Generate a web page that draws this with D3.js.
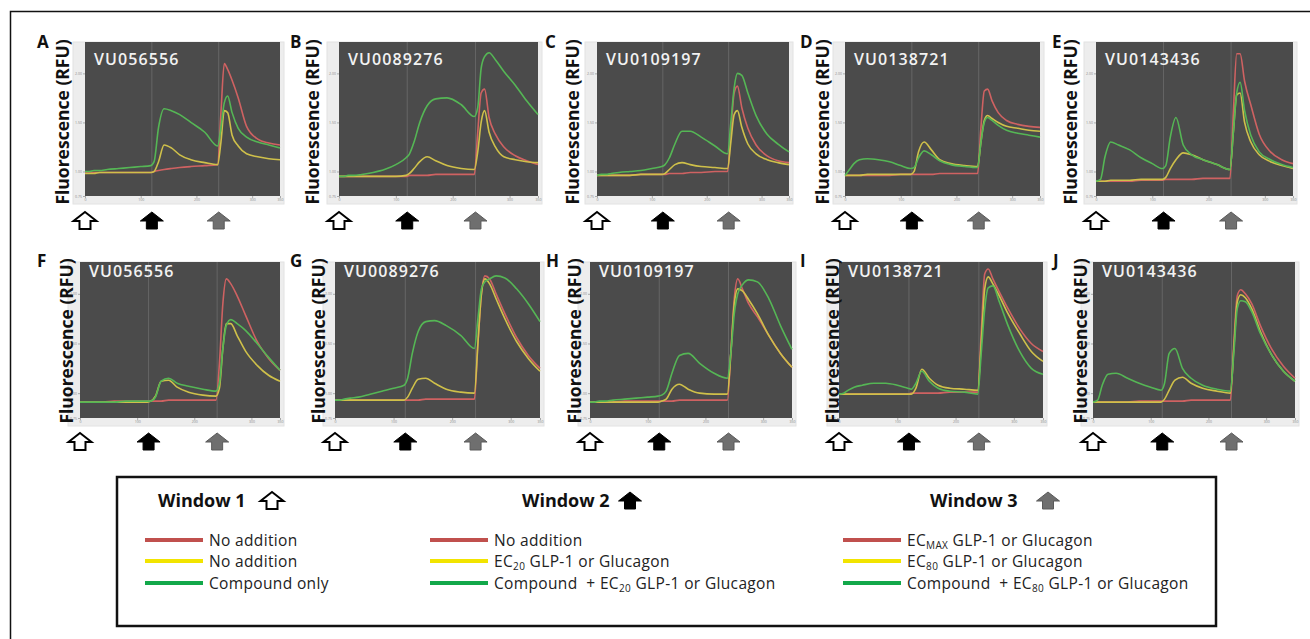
<!DOCTYPE html>
<html>
<head>
<meta charset="utf-8">
<script src="https://cdn.jsdelivr.net/npm/d3@7"></script>
<style>
  body { margin: 0; background: #fff; }
  svg { display: block; }
  text { font-family: "Open Sans", "Noto Sans", sans-serif; }
</style>
</head>
<body>
<div id="draw_here"></div>
<script>
// ---- data (ratio F/F0 vs time in s) ----
const times = [0, 8, 16, 26, 40, 60, 80, 100, 118, 124, 132, 142, 155, 170, 190, 215, 238, 244, 250, 256, 264, 275, 290, 310, 330, 350];
const letters = ["A", "B", "C", "D", "E", "F", "G", "H", "I", "J"];
const compounds = ["VU056556", "VU0089276", "VU0109197", "VU0138721", "VU0143436",
                   "VU056556", "VU0089276", "VU0109197", "VU0138721", "VU0143436"];

// red = EC_MAX / no addition
const red = [
  [0.99,0.99,0.99,0.99,0.99,0.99,0.99,0.99,0.99,1.00,1.01,1.02,1.03,1.04,1.05,1.06,1.07,1.60,2.10,2.04,1.93,1.75,1.46,1.33,1.29,1.27],
  [0.95,0.95,0.95,0.95,0.95,0.95,0.95,0.95,0.95,0.96,0.96,0.96,0.96,0.97,0.97,0.97,0.97,1.40,1.80,1.84,1.55,1.38,1.25,1.16,1.11,1.07],
  [0.96,0.96,0.96,0.96,0.96,0.96,0.97,0.97,0.97,0.97,0.98,0.98,0.98,0.99,0.99,1.00,1.00,1.40,1.80,1.87,1.65,1.44,1.27,1.16,1.11,1.09],
  [0.96,0.96,0.96,0.96,0.96,0.96,0.96,0.97,0.97,0.97,0.97,0.97,0.97,0.98,0.98,0.98,0.98,1.45,1.82,1.84,1.72,1.60,1.52,1.48,1.46,1.45],
  [0.90,0.90,0.90,0.90,0.90,0.90,0.91,0.91,0.91,0.92,0.92,0.92,0.92,0.92,0.93,0.93,0.93,1.60,2.20,2.20,1.92,1.68,1.38,1.20,1.12,1.08],
  [0.91,0.91,0.91,0.91,0.91,0.92,0.92,0.92,0.92,0.92,0.92,0.92,0.93,0.93,0.93,0.93,0.93,1.30,1.90,2.15,2.10,1.98,1.78,1.52,1.35,1.23],
  [0.93,0.93,0.93,0.93,0.93,0.93,0.93,0.93,0.93,0.93,0.93,0.93,0.94,0.94,0.94,0.94,0.94,1.50,2.00,2.18,2.15,2.00,1.80,1.56,1.38,1.25],
  [0.91,0.91,0.91,0.91,0.91,0.92,0.92,0.92,0.92,0.92,0.92,0.92,0.93,0.93,0.93,0.93,0.93,1.40,1.95,2.15,2.05,1.90,1.77,1.58,1.40,1.26],
  [0.99,0.99,0.99,0.99,0.99,0.99,0.99,0.99,0.99,1.00,1.00,1.00,1.00,1.00,1.01,1.01,1.01,1.60,2.20,2.25,2.15,2.02,1.85,1.65,1.50,1.42],
  [0.91,0.91,0.91,0.91,0.91,0.91,0.92,0.92,0.92,0.92,0.92,0.92,0.92,0.93,0.93,0.93,0.93,1.50,1.98,2.04,2.00,1.90,1.68,1.44,1.27,1.15]
];
// yellow = EC20 / EC80
const yellow = [
  [0.98,0.98,0.98,0.99,0.99,0.99,0.99,0.99,0.99,1.00,1.10,1.27,1.24,1.17,1.12,1.09,1.07,1.30,1.62,1.60,1.37,1.26,1.18,1.15,1.13,1.12],
  [0.95,0.95,0.95,0.95,0.95,0.95,0.95,0.95,0.96,0.98,1.03,1.10,1.15,1.11,1.06,1.03,1.02,1.20,1.50,1.62,1.40,1.25,1.15,1.12,1.10,1.09],
  [0.96,0.96,0.96,0.96,0.96,0.96,0.97,0.97,0.97,0.98,1.02,1.07,1.09,1.07,1.05,1.04,1.03,1.30,1.58,1.62,1.45,1.28,1.18,1.12,1.09,1.07],
  [0.96,0.96,0.96,0.96,0.97,0.97,0.97,0.97,0.97,1.00,1.20,1.30,1.22,1.12,1.08,1.06,1.05,1.30,1.52,1.57,1.54,1.50,1.46,1.44,1.42,1.41],
  [0.90,0.90,0.90,0.91,0.91,0.91,0.92,0.92,0.92,0.94,1.03,1.12,1.19,1.17,1.12,1.07,1.02,1.40,1.78,1.80,1.50,1.30,1.17,1.10,1.06,1.03],
  [0.91,0.91,0.91,0.91,0.91,0.91,0.91,0.91,0.91,0.92,0.97,1.12,1.13,1.06,1.01,0.98,0.97,1.05,1.45,1.70,1.70,1.58,1.42,1.28,1.18,1.12],
  [0.93,0.93,0.93,0.93,0.93,0.93,0.93,0.93,0.93,0.96,1.05,1.14,1.15,1.10,1.04,1.01,1.00,1.50,2.00,2.15,2.10,1.95,1.75,1.52,1.35,1.22],
  [0.91,0.91,0.91,0.91,0.91,0.91,0.91,0.91,0.91,0.92,0.94,1.04,1.09,1.04,1.00,0.99,0.99,1.40,1.90,2.05,2.03,1.94,1.80,1.58,1.40,1.26],
  [0.99,0.99,0.99,0.99,0.99,0.99,0.99,0.99,0.99,0.99,1.05,1.24,1.15,1.08,1.05,1.04,1.03,1.50,2.05,2.17,2.10,1.98,1.80,1.60,1.42,1.32],
  [0.91,0.91,0.91,0.91,0.91,0.91,0.91,0.91,0.91,0.94,1.03,1.13,1.16,1.10,1.05,1.02,1.00,1.45,1.92,1.99,1.96,1.85,1.62,1.38,1.22,1.12]
];
// green = compound
const green = [
  [1.00,1.00,1.01,1.01,1.02,1.03,1.04,1.05,1.06,1.10,1.45,1.64,1.62,1.58,1.50,1.40,1.26,1.45,1.70,1.77,1.60,1.44,1.35,1.30,1.27,1.24],
  [0.95,0.95,0.96,0.96,0.97,0.99,1.02,1.07,1.14,1.18,1.30,1.50,1.67,1.74,1.75,1.68,1.56,1.65,2.05,2.17,2.21,2.14,2.02,1.88,1.72,1.58],
  [0.96,0.97,0.97,0.98,0.99,1.00,1.01,1.03,1.05,1.07,1.14,1.28,1.41,1.41,1.35,1.26,1.18,1.50,1.85,2.00,1.98,1.80,1.57,1.38,1.28,1.20],
  [0.96,1.02,1.08,1.12,1.13,1.12,1.10,1.06,1.03,1.04,1.14,1.21,1.17,1.11,1.07,1.05,1.04,1.30,1.50,1.55,1.52,1.47,1.42,1.39,1.37,1.35],
  [0.90,0.92,1.15,1.30,1.27,1.22,1.14,1.08,1.03,1.06,1.35,1.55,1.27,1.17,1.12,1.07,1.02,1.40,1.80,1.91,1.62,1.37,1.20,1.12,1.07,1.04],
  [0.91,0.91,0.91,0.91,0.91,0.91,0.92,0.92,0.92,0.92,0.96,1.12,1.15,1.10,1.07,1.04,1.02,1.10,1.45,1.68,1.74,1.70,1.63,1.50,1.36,1.23],
  [0.93,0.93,0.94,0.95,0.96,0.99,1.02,1.05,1.08,1.15,1.40,1.62,1.72,1.73,1.68,1.58,1.45,1.75,2.05,2.12,2.15,2.18,2.16,2.05,1.90,1.72],
  [0.91,0.91,0.92,0.92,0.93,0.94,0.95,0.96,0.97,0.98,1.02,1.20,1.38,1.40,1.30,1.20,1.15,1.40,1.80,2.00,2.09,2.14,2.12,1.95,1.68,1.44],
  [0.99,1.00,1.03,1.06,1.08,1.10,1.10,1.08,1.05,1.04,1.10,1.22,1.12,1.05,1.02,1.01,0.99,1.40,1.85,2.06,2.08,1.92,1.68,1.42,1.25,1.19],
  [0.91,0.93,1.08,1.19,1.20,1.15,1.10,1.06,1.03,1.10,1.40,1.45,1.25,1.15,1.08,1.04,1.02,1.40,1.85,1.93,1.92,1.82,1.60,1.38,1.22,1.12]
];

const xTicks = [0, 100, 200, 300, 350];
const yTicks = [0.75, 1.0, 1.5, 2.0];
const additions = [0, 120, 240];          // window 1, 2, 3 addition times
const windowNames = ["Window 1", "Window 2", "Window 3"];
const legendText = [
  [["No addition"], ["No addition"], ["Compound only"]],
  [["No addition"], ["EC", "20", " GLP-1 or Glucagon"], ["Compound  + EC", "20", " GLP-1 or Glucagon"]],
  [["EC", "MAX", " GLP-1 or Glucagon"], ["EC", "80", " GLP-1 or Glucagon"], ["Compound  + EC", "80", " GLP-1 or Glucagon"]]
];

// ---- layout ----
const canvas = ({width: 1310, height: 639});
const rows = [
  {top: 42, bottom: 196, letterY: 48, titleY: 65, labelY: 122, arrowY: 212},
  {top: 262, bottom: 418, letterY: 267, titleY: 277, labelY: 341, arrowY: 433}
];
const panelX = [[85,280],[339,538],[597,789],[845,1040],[1096,1293],
                [80,280],[335,540],[590,792],[839,1043],[1093,1295]];
const letterX = [37, 290, 545, 800, 1052, 37, 290, 546, 800, 1053];
const labelX = [62, 312, 572, 822, 1070, 66, 318, 574, 832, 1080];

const c_red = "#cf6262", c_yellow = "#cfc04a", c_green = "#55b655";
const l_red = "#c0504d", l_yellow = "#f2e400", l_green = "#12a84a";

const svg = d3.select("#draw_here").append("svg")
  .attr("width", canvas.width).attr("height", canvas.height)
  .attr("viewBox", [0, 0, canvas.width, canvas.height]);

// outer frame
svg.append("path")
  .attr("d", "M10.5,639V11.5H1310")
  .attr("fill", "none").attr("stroke", "#111").attr("stroke-width", 1.5);

function arrowPath(cx, y) {
  return `M${cx},${y}L${cx+11.5},${y+9}L${cx+5.5},${y+9}L${cx+5.5},${y+17}L${cx-5.5},${y+17}L${cx-5.5},${y+9}L${cx-11.5},${y+9}Z`;
}
const arrowStyle = [
  {fill: "#fff", stroke: "#000", sw: 2},
  {fill: "#000", stroke: "#000", sw: 1},
  {fill: "#6f6f6f", stroke: "#5a5a5a", sw: 1}
];

letters.forEach((letter, i) => {
  const row = rows[Math.floor(i / 5)];
  const [x0, x1] = panelX[i];
  const x = d3.scaleLinear().domain([0, 350]).range([x0, x1]);
  const y = d3.scaleLinear().domain([0.75, 2.32]).range([row.bottom, row.top]);
  const g = svg.append("g");

  // light frame and dark plot area
  g.append("rect").attr("x", x0 - 12).attr("y", row.top).attr("width", x1 - x0 + 16)
    .attr("height", row.bottom - row.top + 8).attr("fill", "#ededed").attr("stroke", "#e2e2e2");
  g.append("rect").attr("x", x0).attr("y", row.top).attr("width", x1 - x0)
    .attr("height", row.bottom - row.top).attr("fill", "#4b4b4b");

  // grid lines at additions 2 and 3
  g.selectAll(".grid").data(additions.slice(1)).join("line")
    .attr("x1", d => x(d)).attr("x2", d => x(d))
    .attr("y1", row.top).attr("y2", row.bottom)
    .attr("stroke", "#666").attr("stroke-width", 1);

  // tiny axes
  g.append("g").attr("transform", `translate(0,${row.bottom})`)
    .call(d3.axisBottom(x).tickValues(xTicks).tickSize(2).tickPadding(1).tickFormat(d3.format("d")))
    .call(a => a.select(".domain").remove())
    .call(a => a.selectAll("line").attr("stroke", "#aaa"))
    .call(a => a.selectAll("text").attr("font-size", 3.5).attr("fill", "#888"));
  g.append("g").attr("transform", `translate(${x0},0)`)
    .call(d3.axisLeft(y).tickValues(yTicks).tickSize(2).tickPadding(1).tickFormat(d3.format(".2f")))
    .call(a => a.select(".domain").remove())
    .call(a => a.selectAll("line").attr("stroke", "#aaa"))
    .call(a => a.selectAll("text").attr("font-size", 3.5).attr("fill", "#888"));

  // curves
  const line = d3.line().x((d, k) => x(times[k])).y(d => y(d)).curve(d3.curveMonotoneX);
  [[red[i], c_red], [yellow[i], c_yellow], [green[i], c_green]].forEach(([vals, col]) => {
    g.append("path").attr("d", line(vals)).attr("fill", "none")
      .attr("stroke", col).attr("stroke-width", 1.6).attr("stroke-linejoin", "round");
  });

  // texts
  g.append("text").attr("x", x0 + 9).attr("y", row.titleY).text(compounds[i])
    .attr("fill", "#f2f2f2").attr("font-size", 16).attr("font-weight", 600)
    .attr("letter-spacing", 1.1);
  g.append("text").attr("x", letterX[i]).attr("y", row.letterY).text(letter)
    .attr("font-size", 17).attr("font-weight", 700).attr("fill", "#111");
  g.append("text")
    .attr("transform", `translate(${labelX[i] + 6.5},${row.labelY}) rotate(-90)`)
    .attr("text-anchor", "middle").text("Fluorescence (RFU)")
    .attr("font-size", 17.5).attr("font-weight", 700).attr("fill", "#111");

  // addition arrows
  additions.forEach((t, k) => {
    g.append("path").attr("d", arrowPath(x(t), row.arrowY))
      .attr("fill", arrowStyle[k].fill).attr("stroke", arrowStyle[k].stroke)
      .attr("stroke-width", arrowStyle[k].sw).attr("stroke-linejoin", "miter");
  });
});

// ---- legend ----
const lg = svg.append("g");
lg.append("rect").attr("x", 117).attr("y", 477).attr("width", 1099).attr("height", 149)
  .attr("fill", "none").attr("stroke", "#111").attr("stroke-width", 2.5);

const headX = [158, 522, 930];
const arrowX = [272, 630, 1048];
const lineX = [145, 430, 843];
const rowY = [540, 561, 583];
const legendColors = [l_red, l_yellow, l_green];

windowNames.forEach((name, c) => {
  lg.append("text").attr("x", headX[c]).attr("y", 507).text(name)
    .attr("font-size", 18).attr("font-weight", 700).attr("fill", "#111");
  lg.append("path").attr("d", arrowPath(arrowX[c], 492))
    .attr("fill", arrowStyle[c].fill).attr("stroke", arrowStyle[c].stroke)
    .attr("stroke-width", arrowStyle[c].sw);
  legendText[c].forEach((parts, r) => {
    lg.append("line").attr("x1", lineX[c]).attr("x2", lineX[c] + 58)
      .attr("y1", rowY[r]).attr("y2", rowY[r])
      .attr("stroke", legendColors[r]).attr("stroke-width", 4);
    const t = lg.append("text").attr("x", lineX[c] + 64).attr("y", rowY[r] + 5.5)
      .attr("font-size", 15.5).attr("letter-spacing", 0.35).attr("fill", "#222")
      .style("white-space", "pre");
    t.append("tspan").text(parts[0]);
    if (parts.length > 1) {
      t.append("tspan").attr("font-size", 10).attr("dy", 3).text(parts[1]);
      t.append("tspan").attr("dy", -3).text(parts[2]);
    }
  });
});
</script>
</body>
</html>
